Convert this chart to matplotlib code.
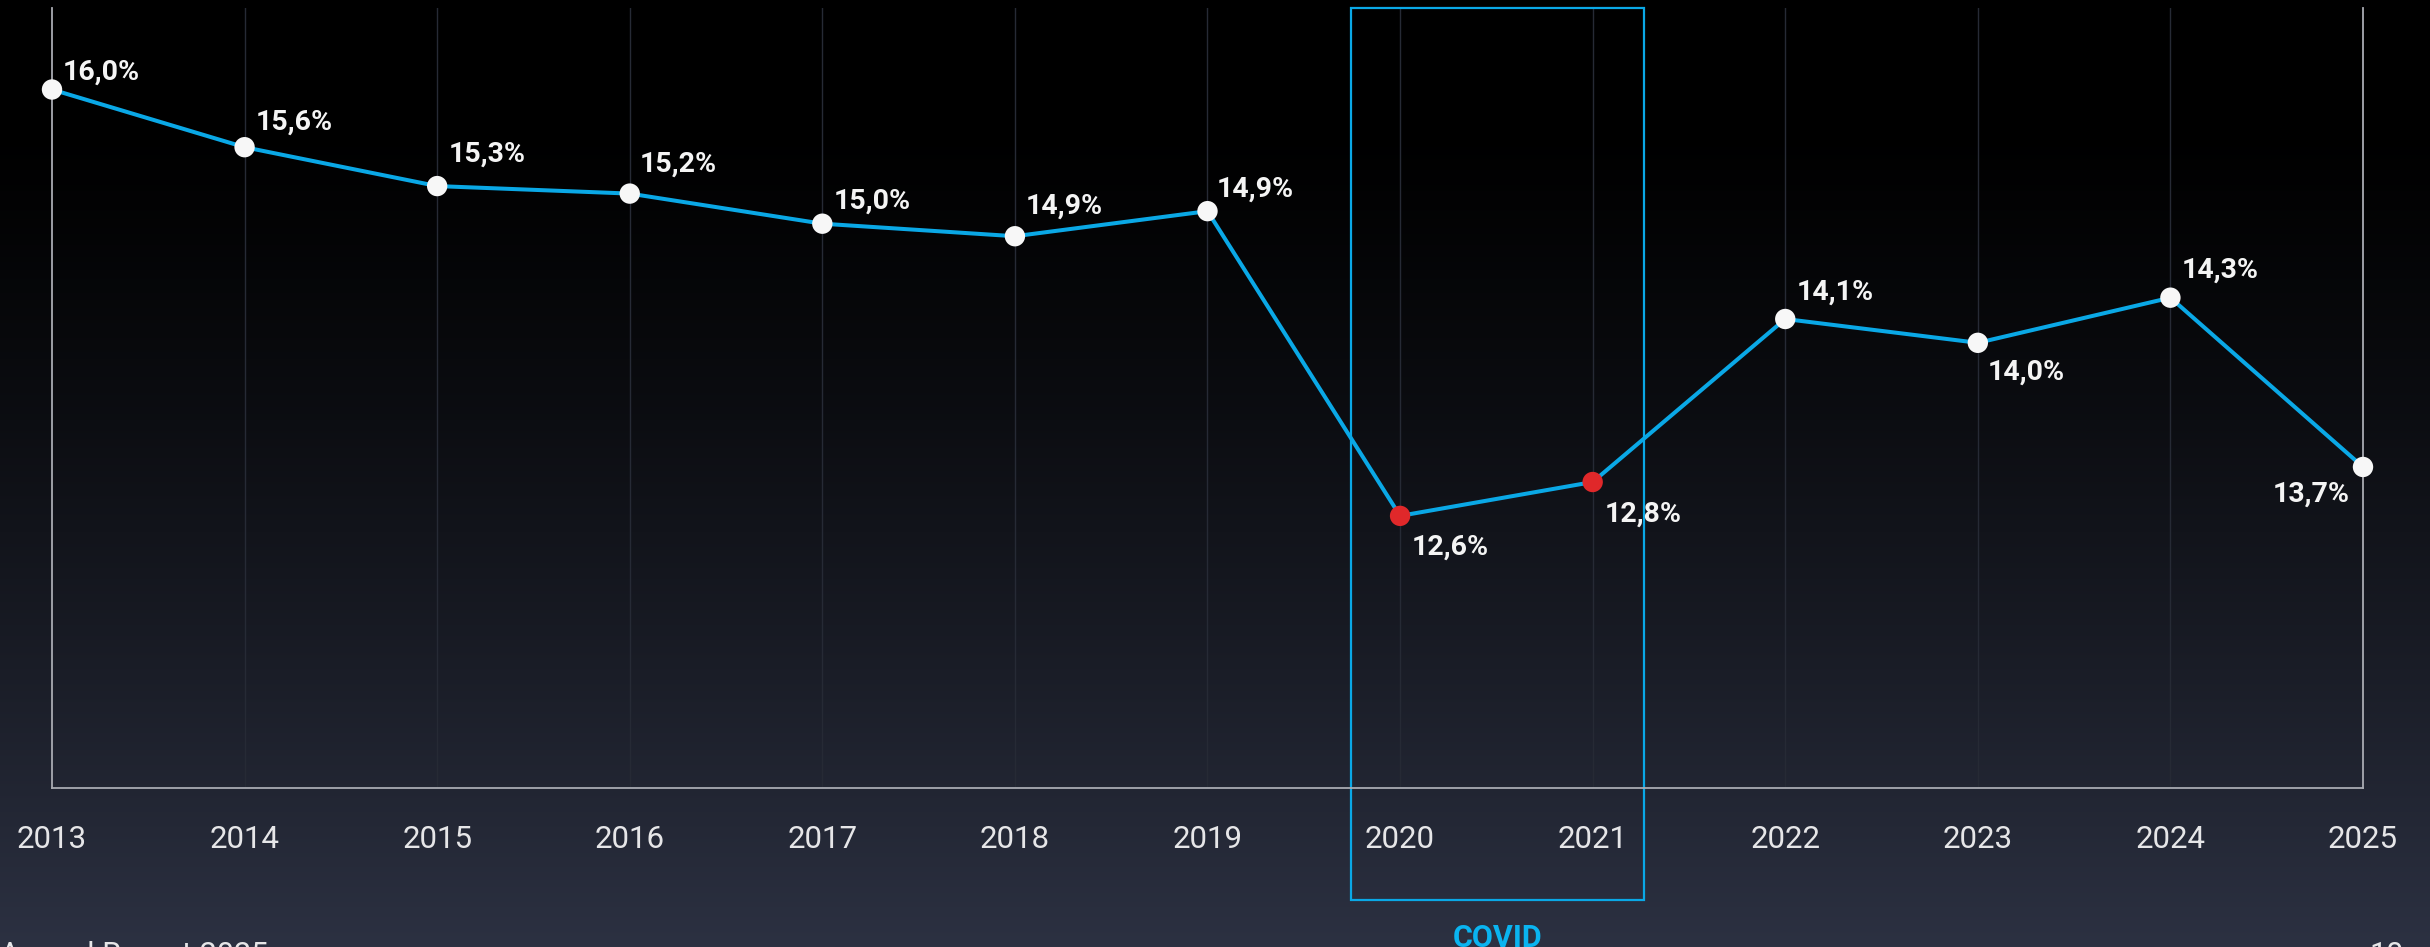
import numpy as np
import matplotlib
matplotlib.use("Agg")
import matplotlib.pyplot as plt
from matplotlib.patches import Rectangle
import matplotlib.transforms as mtransforms

# ---- data ----
years = [2013, 2014, 2015, 2016, 2017, 2018, 2019, 2020, 2021, 2022, 2023, 2024, 2025]
values = [16.0, 15.54, 15.23, 15.17, 14.93, 14.83, 15.03, 12.6, 12.87, 14.17, 13.98, 14.34, 12.99]
value_labels = ["16,0%", "15,6%", "15,3%", "15,2%", "15,0%", "14,9%", "14,9%",
                "12,6%", "12,8%", "14,1%", "14,0%", "14,3%", "13,7%"]
covid_years = [2020, 2021]

# label placement (style): horizontal alignment and pixel offsets from each point
label_ha = ["left"] * 12 + ["right"]
label_dx = [11, 11, 12, 10, 11, 11, 9, 12, 12, 11, 10, 11, -13]
label_dy = [10, 18, 24, 22, 15, 23, 14, -39, -40, 19, -37, 20, -35]

W, H, DPI = 2430, 947, 100
fig = plt.figure(figsize=(W / DPI, H / DPI), dpi=DPI)

# background gradient
bg = fig.add_axes([0, 0, 1, 1], zorder=-10)
bg.set_axis_off()
t = np.linspace(0, 1, 500)
s = np.clip((t - 0.12) / 0.88, 0, 1) ** 1.3
top = np.array([0, 0, 0]) / 255
bot = np.array([44, 49, 66]) / 255
grad = top[None, :] * (1 - s[:, None]) + bot[None, :] * s[:, None]
bg.imshow(grad[:, None, :], aspect="auto", extent=[0, 1, 0, 1], origin="upper")
bg.set_xlim(0, 1)
bg.set_ylim(0, 1)

ax_left, ax_right = 52 / W, 2363 / W
ax_bot, ax_top = 1 - 788 / H, 1 - 8 / H
ax = fig.add_axes([ax_left, ax_bot, ax_right - ax_left, ax_top - ax_bot])
ax.set_facecolor("none")
ax.set_xlim(years[0], years[-1])
ax.set_ylim(10.43, 16.65)

# gridlines
for y in years[1:-1]:
    ax.axvline(y, color="#262a35", lw=1.0, zorder=1)

ax.spines["top"].set_visible(False)
for sp in ["left", "right", "bottom"]:
    ax.spines[sp].set_color("#a9abb2")
    ax.spines[sp].set_linewidth(1.3)
ax.set_yticks([])
ax.set_xticks(years)
ax.set_xticklabels([str(y) for y in years], fontfamily="Roboto", fontsize=22.5, color="#e6e6e8")
ax.tick_params(axis="x", length=0, pad=27)

line_color = "#0aa8e6"
ax.plot(years, values, color=line_color, lw=2.9, zorder=3, solid_capstyle="round", clip_on=False)
mcolors = ["#e0282a" if y in covid_years else "#f7f7f7" for y in years]
ax.scatter(years, values, s=215, c=mcolors, zorder=4, linewidths=0, clip_on=False)

for x, v, lab, ha, dx, dy in zip(years, values, value_labels, label_ha, label_dx, label_dy):
    ax.annotate(lab, (x, v), xytext=(dx, dy), textcoords="offset pixels",
                ha=ha, va="baseline", fontfamily="Roboto", fontweight="bold",
                fontsize=20.5, color="#f4f4f4", zorder=5, annotation_clip=False)

# COVID box
trans = mtransforms.blended_transform_factory(ax.transData, ax.transAxes)
x0, x1 = covid_years[0] - 0.255, covid_years[-1] + 0.267
rect = Rectangle((x0, -0.1436), x1 - x0, 1.1436, transform=trans, fill=False,
                 edgecolor="#0aa8e6", lw=1.6, clip_on=False, zorder=2)
ax.add_patch(rect)
fig.text((1497.5) / W, 1 - 947 / H, "COVID", ha="center", va="baseline",
         fontfamily="Roboto", fontweight="bold", fontsize=22, color="#0ab4f0")

# footer
fig.text(0 / W, 1 - 964 / H, "Annual Report 2025", ha="left", va="baseline",
         fontfamily="Roboto", fontsize=22, color="#e6e6e8")
fig.text(2369 / W, 1 - 964 / H, "10", ha="left", va="baseline",
         fontfamily="Roboto", fontsize=22, color="#e6e6e8")

fig.savefig("out.png", dpi=DPI)
